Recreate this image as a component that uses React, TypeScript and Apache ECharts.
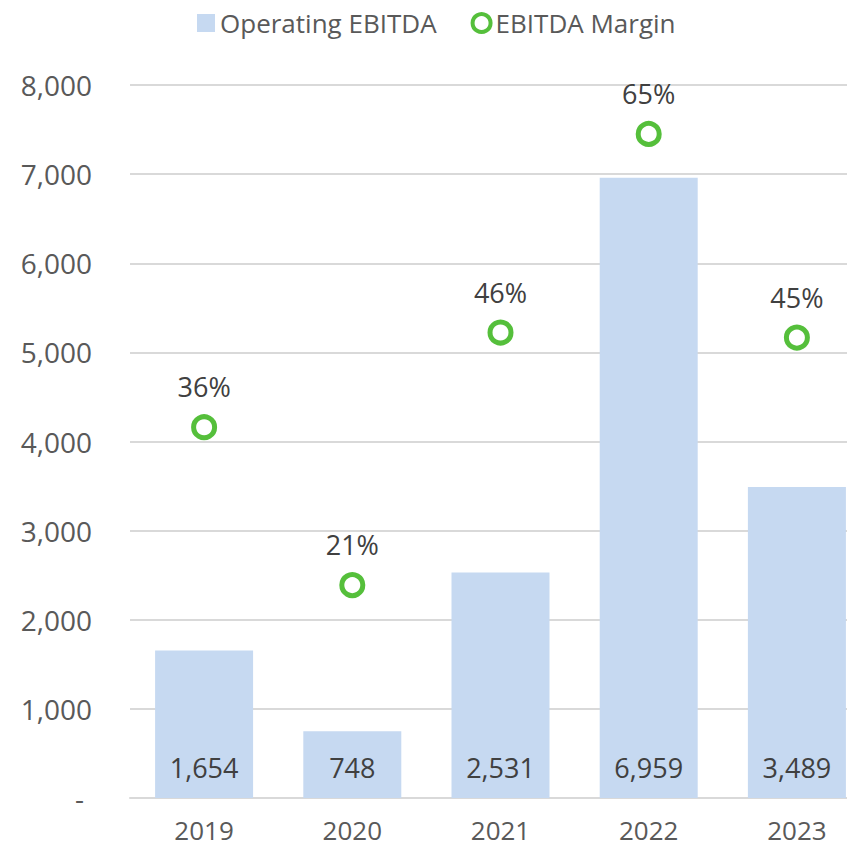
import React, { useEffect, useRef } from "react";
import * as echarts from "echarts";

const years = ["2019", "2020", "2021", "2022", "2023"];
const ebitda = [1654, 748, 2531, 6959, 3489];
const margin = [0.364, 0.209, 0.457, 0.652, 0.452];
const yTicks = [0, 1000, 2000, 3000, 4000, 5000, 6000, 7000, 8000];

const FONT = "'Open Sans', 'Liberation Sans', sans-serif";

export default function App() {
  const ref = useRef<HTMLDivElement>(null);
  useEffect(() => {
    if (!ref.current) return;
    const chart = echarts.init(ref.current, null, { renderer: "svg" });
    chart.setOption({
      animation: false,
      backgroundColor: "#ffffff",
      textStyle: { fontFamily: FONT },
      legend: {
        top: 5,
        left: 192,
        itemGap: 34,
        itemWidth: 18,
        itemHeight: 18,
        textStyle: { fontSize: 26, color: "#595959", fontFamily: FONT },
        data: [
          { name: "Operating EBITDA", icon: "rect" },
          { name: "EBITDA Margin", icon: "circle", itemStyle: { color: "#fff", borderColor: "#55BF3B", borderWidth: 4 } },
        ],
      },
      grid: { left: 130, top: 85, width: 741, bottom: 51, containLabel: false, outerBoundsMode: "none" },
      xAxis: {
        type: "category",
        data: years,
        axisLine: { show: true, lineStyle: { color: "#D9D9D9", width: 2 } },
        axisTick: { show: false },
        axisLabel: { color: "#595959", fontSize: 26, margin: 19, lineHeight: 26, fontFamily: FONT },
      },
      yAxis: [
        {
          type: "value",
          min: yTicks[0],
          max: yTicks[yTicks.length - 1],
          interval: 1000,
          axisLine: { show: false },
          axisTick: { show: false },
          splitLine: { lineStyle: { color: "#D9D9D9", width: 2 } },
          axisLabel: {
            color: "#595959",
            fontSize: 28,
            margin: 38,
            fontFamily: FONT,
            formatter: (v: number) => (v === 0 ? "{z|-}" : v.toLocaleString("en-US")),
            rich: { z: { fontSize: 28, color: "#595959", padding: [0, 8, 0, 0], fontFamily: FONT } },
          },
        },
        {
          type: "value",
          min: 0,
          max: 0.7,
          show: false,
          splitLine: { show: false },
        },
      ],
      series: [
        {
          name: "Operating EBITDA",
          type: "bar",
          data: ebitda,
          barWidth: 98,
          itemStyle: { color: "#C6D9F1" },
          label: {
            show: true,
            position: "insideBottom",
            distance: 17,
            color: "#404040",
            fontSize: 27,
            fontFamily: FONT,
            formatter: (p: any) => Number(p.value).toLocaleString("en-US"),
          },
        },
        {
          name: "EBITDA Margin",
          type: "scatter",
          yAxisIndex: 1,
          data: margin,
          symbol: "circle",
          symbolSize: 21,
          itemStyle: { color: "#ffffff", borderColor: "#55BF3B", borderWidth: 5, opacity: 1 },
          label: {
            show: true,
            position: "top",
            distance: 14,
            color: "#404040",
            fontSize: 27,
            fontFamily: FONT,
            formatter: (p: any) => Math.round(p.value * 100) + "%",
          },
        },
      ],
    });
    return () => chart.dispose();
  }, []);
  return <div ref={ref} style={{ width: 847, height: 849, position: "absolute", left: 0, top: 0 }} />;
}
